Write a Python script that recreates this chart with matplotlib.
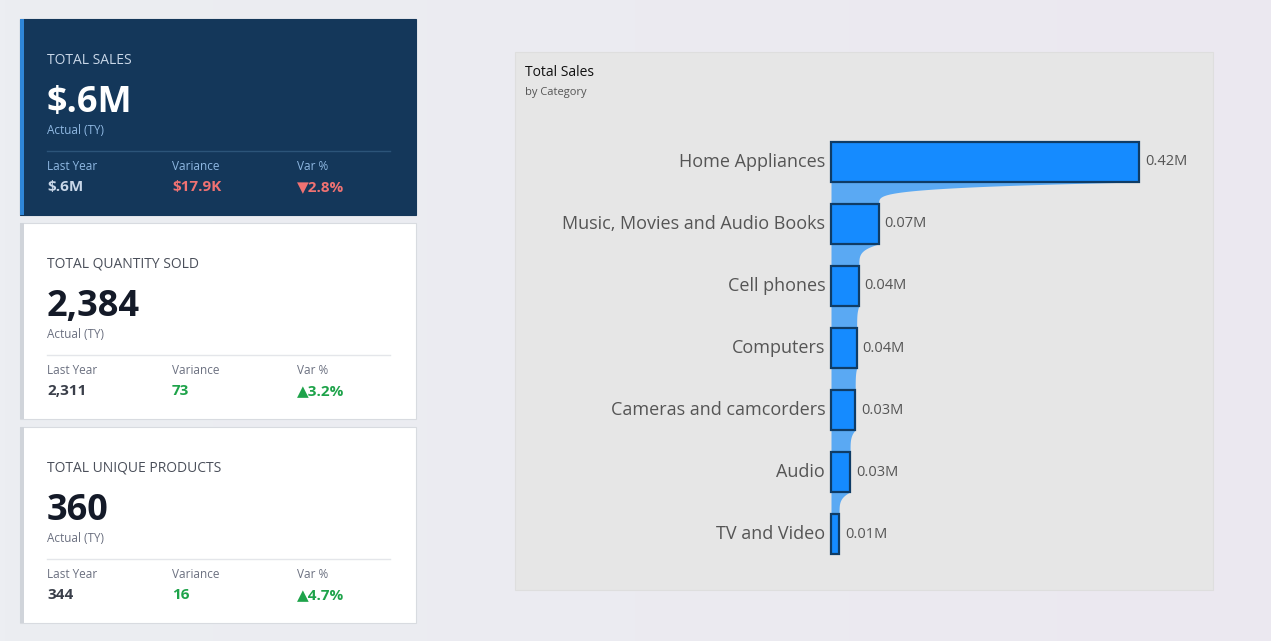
import matplotlib.pyplot as plt
from matplotlib.patches import Rectangle
import numpy as np

plt.rcParams['font.family'] = ['Open Sans', 'DejaVu Sans']

categories = ["Home Appliances", "Music, Movies and Audio Books", "Cell phones",
              "Computers", "Cameras and camcorders", "Audio", "TV and Video"]
sales = [0.42, 0.065, 0.038, 0.035, 0.033, 0.026, 0.011]
sales_labels = ["0.42M", "0.07M", "0.04M", "0.04M", "0.03M", "0.03M", "0.01M"]

card_titles = ["TOTAL SALES", "TOTAL QUANTITY SOLD", "TOTAL UNIQUE PRODUCTS"]
card_main = ["$.6M", "2,384", "360"]
card_last = ["$.6M", "2,311", "344"]
card_var = ["$17.9K", "73", "16"]
card_pct = ["▼2.8%", "▲3.2%", "▲4.7%"]

fig = plt.figure(figsize=(12.71, 6.41), dpi=100)
bg = fig.add_axes([0, 0, 1, 1])
bg.set_xlim(0, 1271)
bg.set_ylim(641, 0)
bg.axis('off')
grad = np.linspace(0, 1, 256).reshape(1, -1)
bg.imshow(grad, extent=[0, 1271, 641, 0], aspect='auto',
          cmap=plt.matplotlib.colors.LinearSegmentedColormap.from_list('g', ['#eceef2', '#ebe8f0']))

tops = [19, 223, 427]
for i, top in enumerate(tops):
    dark = i == 0
    bg.add_patch(Rectangle((20, top), 396, 196, facecolor='#14375a' if dark else 'white',
                           edgecolor='#d8dbe0' if not dark else '#14375a', lw=0.8))
    bg.add_patch(Rectangle((20, top), 4, 196, facecolor='#2f86d8' if dark else '#d0d4da', lw=0))
    tc = '#c9d7e8' if dark else '#4a4f5a'
    mc = 'white' if dark else '#141a28'
    sc = '#8fb8e2' if dark else '#6b7080'
    vc = '#c9d7e8' if dark else '#3a3f4a'
    bg.text(47, top + 41, card_titles[i], fontsize=10, color=tc, va='center')
    bg.text(47, top + 84, card_main[i], fontsize=26, fontweight='bold', color=mc, va='center')
    bg.text(47, top + 111, "Actual (TY)", fontsize=8.5, color=sc, va='center')
    bg.plot([47, 390], [top + 132, top + 132], color='#2c5479' if dark else '#e4e6ea', lw=1)
    good = '#f07272' if dark else '#1ea34a'
    for x, lab, val, col in [(47, "Last Year", card_last[i], vc),
                             (172, "Variance", card_var[i], good),
                             (297, "Var %", card_pct[i], good)]:
        bg.text(x, top + 148, lab, fontsize=8.5, color=sc, va='center')
        bg.text(x, top + 168, val, fontsize=11, fontweight='bold', color=col, va='center')

# chart panel
bg.add_patch(Rectangle((515, 52), 698, 538, facecolor='#e6e6e6', edgecolor='#dedede', lw=0.8))
bg.text(525, 73, "Total Sales", fontsize=10, color='#111111', va='center')
bg.text(525, 92, "by Category", fontsize=8, color='#555555', va='center')

ax = fig.add_axes([515 / 1271, 1 - 590 / 641, 698 / 1271, 538 / 641])
ax.set_xlim(-0.431, 0.521)
ax.set_ylim(6.903, -1.774)
ax.axis('off')

h = 0.645
ys = np.arange(len(sales))
# ribbon connecting bars
for i in range(len(sales) - 1):
    yy = np.linspace(i + h / 2, i + 1 - h / 2, 60)
    t = (yy - yy[0]) / (yy[-1] - yy[0])
    w = sales[i + 1] + (sales[i] - sales[i + 1]) * (1 - t) ** 4
    ax.fill_betweenx(yy, 0, w, color='#5aa9f3', lw=0)
    ax.fill_betweenx([i - h / 2, i + h / 2], 0, min(sales[i], sales[i + 1]) * 0.9,
                     color='#5aa9f3', lw=0)
for i in range(len(sales)):
    ax.barh(i, sales[i], height=h if i < 6 else 0.65, color='#158bff',
            edgecolor='#0f3c66', lw=1.6, zorder=3)
    ax.text(-0.008, i, categories[i], ha='right', va='center', fontsize=13, color='#555555')
    ax.text(sales[i] + 0.008, i, sales_labels[i], ha='left', va='center', fontsize=10.5,
            color='#555555')

plt.savefig("out.png", dpi=100)
